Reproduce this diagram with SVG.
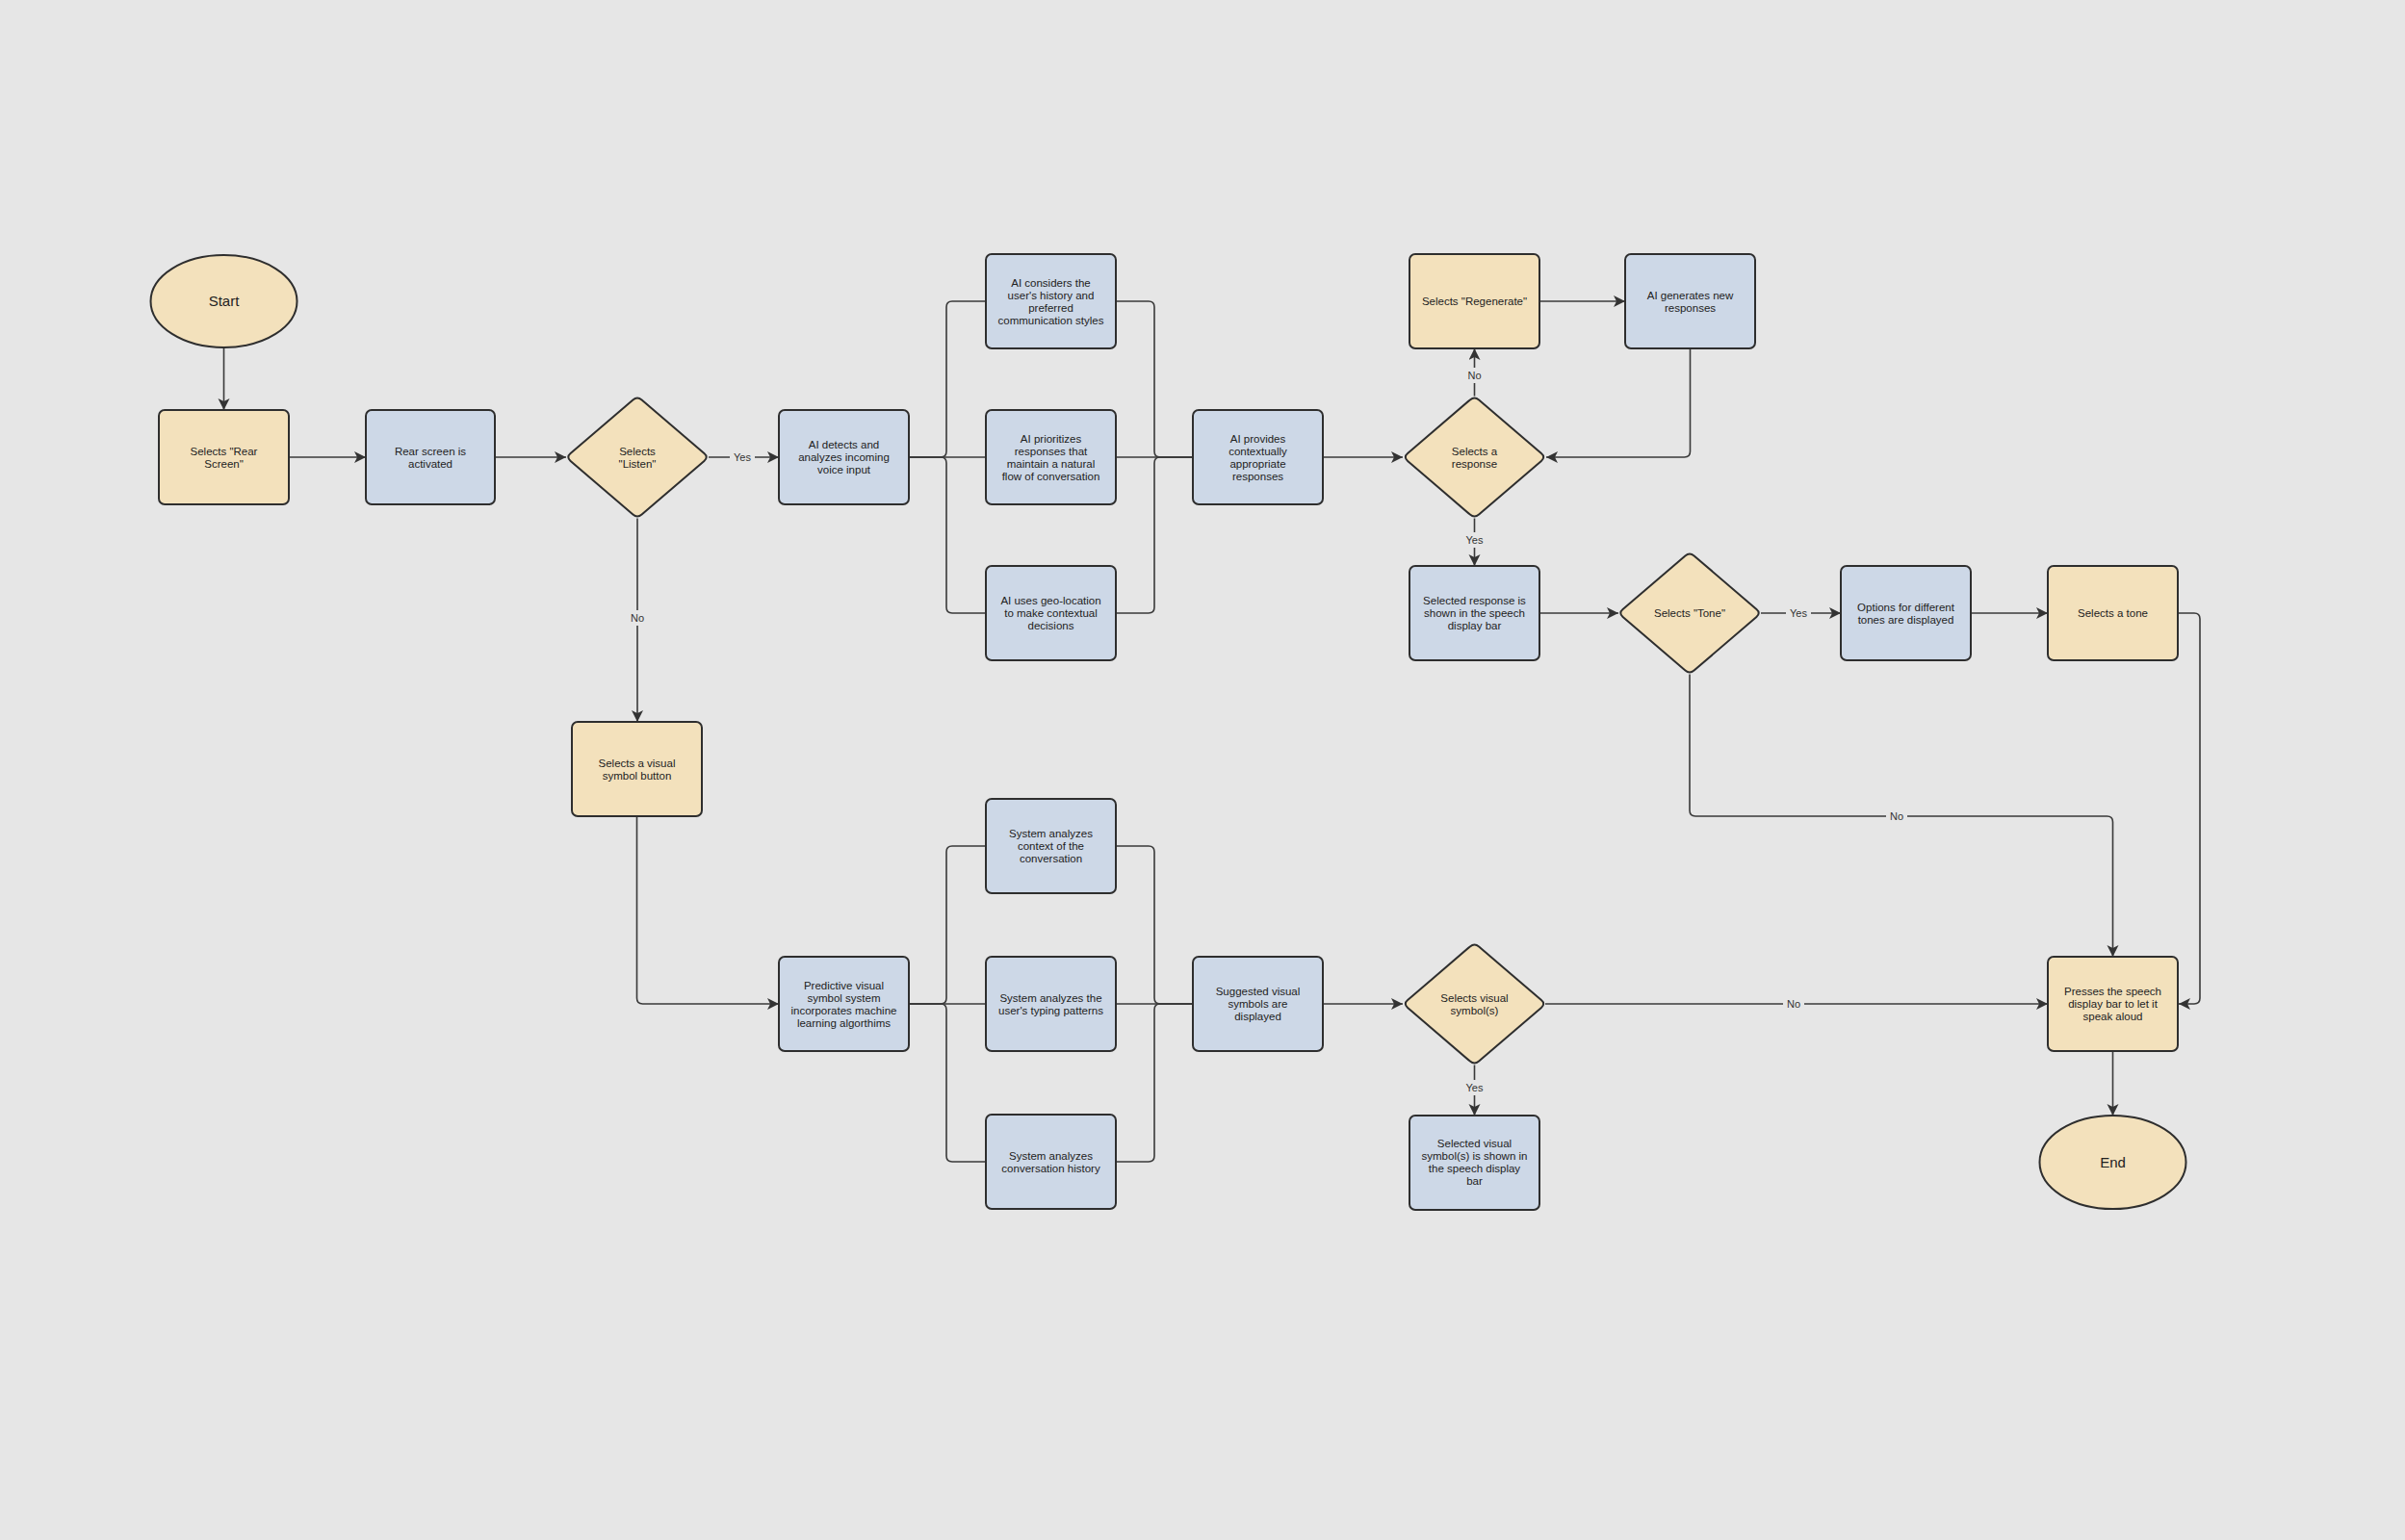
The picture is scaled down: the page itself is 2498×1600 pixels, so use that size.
<svg xmlns="http://www.w3.org/2000/svg" width="2498" height="1600" viewBox="0 0 2498 1600">
<style>
.bg{fill:#e6e6e6}
.y{fill:#f3e1bc;stroke:#2e2e2e;stroke-width:2}
.b{fill:#cdd8e7;stroke:#2e2e2e;stroke-width:2}
.t{font-family:"Liberation Sans",Arial,sans-serif;font-size:11.5px;fill:#222;text-anchor:middle}
.tl{font-family:"Liberation Sans",Arial,sans-serif;font-size:15px;fill:#222;text-anchor:middle}
.c path{fill:none;stroke:#3a3a3a;stroke-width:1.6}
.lb{fill:#e6e6e6}
.lt{font-family:"Liberation Sans",Arial,sans-serif;font-size:11px;fill:#333;text-anchor:middle}
</style>
<defs>
<marker id="ah" markerUnits="userSpaceOnUse" markerWidth="13" markerHeight="13" refX="12" refY="6" orient="auto">
<path d="M0,0 L12,6 L0,12 L3,6 Z" fill="#333"/>
</marker>
<path id="dia" d="M -4.6,-59.6 Q 0,-63.5 4.6,-59.6 L 69.4,-3.9 Q 74,0 69.4,3.9 L 4.6,59.6 Q 0,63.5 -4.6,59.6 L -69.4,3.9 Q -74,0 -69.4,-3.9 Z"/>
</defs>
<rect class="bg" x="0" y="0" width="2498" height="1600"/>

<g id="connectors" class="c">
<path d="M232.5,361 V426" marker-end="url(#ah)"/>
<path d="M300,475 H380" marker-end="url(#ah)"/>
<path d="M514,475 H588" marker-end="url(#ah)"/>
<path d="M736,475 H809" marker-end="url(#ah)"/>
<path d="M662,538.5 V750" marker-end="url(#ah)"/>
<path d="M944,475 H1024"/>
<path d="M944,475 H977 Q983,475 983,469 V319 Q983,313 989,313 H1024"/>
<path d="M944,475 H977 Q983,475 983,481 V631 Q983,637 989,637 H1024"/>
<path d="M1159,475 H1239"/>
<path d="M1159,313 H1193 Q1199,313 1199,319 V469 Q1199,475 1205,475 H1239"/>
<path d="M1159,637 H1193 Q1199,637 1199,631 V481 Q1199,475 1205,475 H1239"/>
<path d="M1374,475 H1457" marker-end="url(#ah)"/>
<path d="M1531.5,411.5 V362" marker-end="url(#ah)"/>
<path d="M1599,313 H1688" marker-end="url(#ah)"/>
<path d="M1755.5,362 V469 Q1755.5,475 1749.5,475 H1606" marker-end="url(#ah)"/>
<path d="M1531.5,538.5 V588" marker-end="url(#ah)"/>
<path d="M1599,637 H1681" marker-end="url(#ah)"/>
<path d="M1829,637 H1912" marker-end="url(#ah)"/>
<path d="M2047,637 H2127" marker-end="url(#ah)"/>
<path d="M2262,637 H2279 Q2285,637 2285,643 V1037 Q2285,1043 2279,1043 H2263" marker-end="url(#ah)"/>
<path d="M1755,700.5 V842 Q1755,848 1761,848 H2188.5 Q2194.5,848 2194.5,854 V994" marker-end="url(#ah)"/>
<path d="M661.5,848 V1037 Q661.5,1043 667.5,1043 H809" marker-end="url(#ah)"/>
<path d="M944,1043 H1024"/>
<path d="M944,1043 H977 Q983,1043 983,1037 V885 Q983,879 989,879 H1024"/>
<path d="M944,1043 H977 Q983,1043 983,1049 V1201 Q983,1207 989,1207 H1024"/>
<path d="M1159,1043 H1239"/>
<path d="M1159,879 H1193 Q1199,879 1199,885 V1037 Q1199,1043 1205,1043 H1239"/>
<path d="M1159,1207 H1193 Q1199,1207 1199,1201 V1049 Q1199,1043 1205,1043 H1239"/>
<path d="M1374,1043 H1457" marker-end="url(#ah)"/>
<path d="M1531.5,1106.5 V1159" marker-end="url(#ah)"/>
<path d="M1605,1043 H2127" marker-end="url(#ah)"/>
<path d="M2194.5,1092 V1159" marker-end="url(#ah)"/>
<g id="labels">
<rect class="lb" x="758" y="467" width="26" height="16"/><text class="lt" x="771" y="479">Yes</text>
<rect class="lb" x="651" y="634" width="22" height="16"/><text class="lt" x="662" y="646">No</text>
<rect class="lb" x="1520.5" y="382" width="22" height="16"/><text class="lt" x="1531.5" y="394">No</text>
<rect class="lb" x="1518.5" y="553" width="26" height="16"/><text class="lt" x="1531.5" y="565">Yes</text>
<rect class="lb" x="1855" y="629" width="26" height="16"/><text class="lt" x="1868" y="641">Yes</text>
<rect class="lb" x="1959" y="840" width="22" height="16"/><text class="lt" x="1970" y="852">No</text>
<rect class="lb" x="1518.5" y="1122" width="26" height="16"/><text class="lt" x="1531.5" y="1134">Yes</text>
<rect class="lb" x="1852" y="1035" width="22" height="16"/><text class="lt" x="1863" y="1047">No</text>
</g>
</g>

<g id="start"><ellipse class="y" cx="232.5" cy="313" rx="76" ry="48"/><text class="tl" x="232.5" y="318">Start</text></g>
<g id="rear-screen"><rect class="y" x="165" y="426" width="135" height="98" rx="6"/><text class="t" x="232.5" y="472.5">Selects "Rear</text><text class="t" x="232.5" y="485.5">Screen"</text></g>
<g id="rear-active"><rect class="b" x="380" y="426" width="134" height="98" rx="6"/><text class="t" x="447" y="472.5">Rear screen is</text><text class="t" x="447" y="485.5">activated</text></g>
<g id="listen"><use href="#dia" class="y" transform="translate(662,475)"/><text class="t" x="662" y="472.5">Selects</text><text class="t" x="662" y="485.5">"Listen"</text></g>
<g id="ai-detects"><rect class="b" x="809" y="426" width="135" height="98" rx="6"/><text class="t" x="876.5" y="466">AI detects and</text><text class="t" x="876.5" y="479">analyzes incoming</text><text class="t" x="876.5" y="492">voice input</text></g>
<g id="ai-considers"><rect class="b" x="1024" y="264" width="135" height="98" rx="6"/><text class="t" x="1091.5" y="297.5">AI considers the</text><text class="t" x="1091.5" y="310.5">user's history and</text><text class="t" x="1091.5" y="323.5">preferred</text><text class="t" x="1091.5" y="336.5">communication styles</text></g>
<g id="ai-prioritizes"><rect class="b" x="1024" y="426" width="135" height="98" rx="6"/><text class="t" x="1091.5" y="459.5">AI prioritizes</text><text class="t" x="1091.5" y="472.5">responses that</text><text class="t" x="1091.5" y="485.5">maintain a natural</text><text class="t" x="1091.5" y="498.5">flow of conversation</text></g>
<g id="ai-geo"><rect class="b" x="1024" y="588" width="135" height="98" rx="6"/><text class="t" x="1091.5" y="628">AI uses geo-location</text><text class="t" x="1091.5" y="641">to make contextual</text><text class="t" x="1091.5" y="654">decisions</text></g>
<g id="ai-provides"><rect class="b" x="1239" y="426" width="135" height="98" rx="6"/><text class="t" x="1306.5" y="459.5">AI provides</text><text class="t" x="1306.5" y="472.5">contextually</text><text class="t" x="1306.5" y="485.5">appropriate</text><text class="t" x="1306.5" y="498.5">responses</text></g>
<g id="regenerate"><rect class="y" x="1464" y="264" width="135" height="98" rx="6"/><text class="t" x="1531.5" y="317">Selects "Regenerate"</text></g>
<g id="select-response"><use href="#dia" class="y" transform="translate(1531.5,475)"/><text class="t" x="1531.5" y="472.5">Selects a</text><text class="t" x="1531.5" y="485.5">response</text></g>
<g id="ai-generates"><rect class="b" x="1688" y="264" width="135" height="98" rx="6"/><text class="t" x="1755.5" y="310.5">AI generates new</text><text class="t" x="1755.5" y="323.5">responses</text></g>
<g id="selected-response"><rect class="b" x="1464" y="588" width="135" height="98" rx="6"/><text class="t" x="1531.5" y="628">Selected response is</text><text class="t" x="1531.5" y="641">shown in the speech</text><text class="t" x="1531.5" y="654">display bar</text></g>
<g id="tone"><use href="#dia" class="y" transform="translate(1755,637)"/><text class="t" x="1755" y="641">Selects "Tone"</text></g>
<g id="options"><rect class="b" x="1912" y="588" width="135" height="98" rx="6"/><text class="t" x="1979.5" y="634.5">Options for different</text><text class="t" x="1979.5" y="647.5">tones are displayed</text></g>
<g id="select-tone"><rect class="y" x="2127" y="588" width="135" height="98" rx="6"/><text class="t" x="2194.5" y="641">Selects a tone</text></g>
<g id="visual-button"><rect class="y" x="594" y="750" width="135" height="98" rx="6"/><text class="t" x="661.5" y="796.5">Selects a visual</text><text class="t" x="661.5" y="809.5">symbol button</text></g>
<g id="sys-context"><rect class="b" x="1024" y="830" width="135" height="98" rx="6"/><text class="t" x="1091.5" y="870">System analyzes</text><text class="t" x="1091.5" y="883">context of the</text><text class="t" x="1091.5" y="896">conversation</text></g>
<g id="predictive"><rect class="b" x="809" y="994" width="135" height="98" rx="6"/><text class="t" x="876.5" y="1027.5">Predictive visual</text><text class="t" x="876.5" y="1040.5">symbol system</text><text class="t" x="876.5" y="1053.5">incorporates machine</text><text class="t" x="876.5" y="1066.5">learning algorthims</text></g>
<g id="sys-typing"><rect class="b" x="1024" y="994" width="135" height="98" rx="6"/><text class="t" x="1091.5" y="1040.5">System analyzes the</text><text class="t" x="1091.5" y="1053.5">user's typing patterns</text></g>
<g id="sys-history"><rect class="b" x="1024" y="1158" width="135" height="98" rx="6"/><text class="t" x="1091.5" y="1204.5">System analyzes</text><text class="t" x="1091.5" y="1217.5">conversation history</text></g>
<g id="suggested"><rect class="b" x="1239" y="994" width="135" height="98" rx="6"/><text class="t" x="1306.5" y="1034">Suggested visual</text><text class="t" x="1306.5" y="1047">symbols are</text><text class="t" x="1306.5" y="1060">displayed</text></g>
<g id="select-visual"><use href="#dia" class="y" transform="translate(1531.5,1043)"/><text class="t" x="1531.5" y="1040.5">Selects visual</text><text class="t" x="1531.5" y="1053.5">symbol(s)</text></g>
<g id="selected-visual"><rect class="b" x="1464" y="1159" width="135" height="98" rx="6"/><text class="t" x="1531.5" y="1191.5">Selected visual</text><text class="t" x="1531.5" y="1204.5">symbol(s) is shown in</text><text class="t" x="1531.5" y="1217.5">the speech display</text><text class="t" x="1531.5" y="1230.5">bar</text></g>
<g id="presses"><rect class="y" x="2127" y="994" width="135" height="98" rx="6"/><text class="t" x="2194.5" y="1034">Presses the speech</text><text class="t" x="2194.5" y="1047">display bar to let it</text><text class="t" x="2194.5" y="1060">speak aloud</text></g>
<g id="end"><ellipse class="y" cx="2194.5" cy="1207.5" rx="76" ry="48.5"/><text class="tl" x="2194.5" y="1212.5">End</text></g>
</svg>
